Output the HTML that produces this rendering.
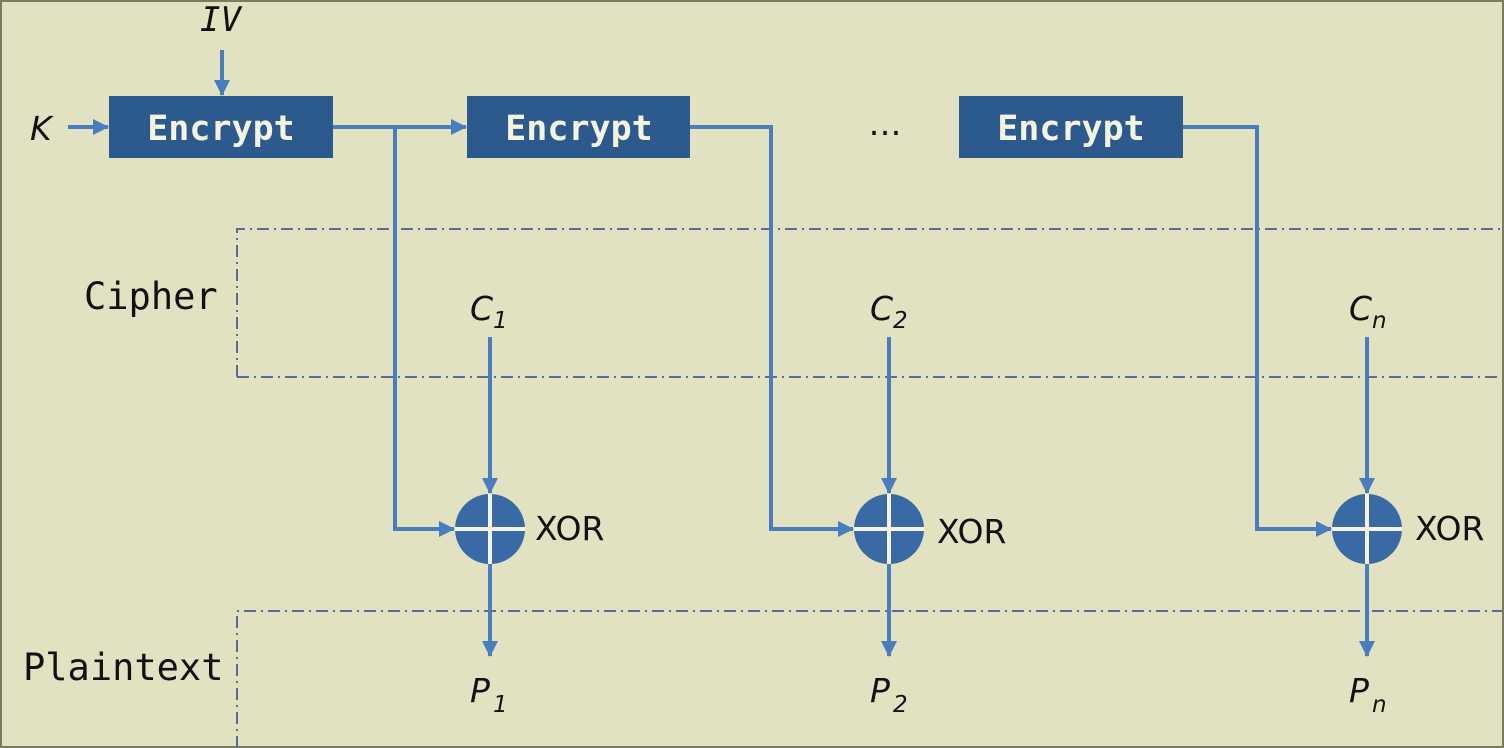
<!DOCTYPE html>
<html><head><style>
html,body{margin:0;padding:0;background:#e2e2c2;}
svg{display:block}
.enc{font-family:"DejaVu Sans Mono","Liberation Mono",monospace;font-size:35px;font-weight:bold;fill:#f4f4e0;}
.lab{font-family:"DejaVu Sans Mono","Liberation Mono",monospace;font-size:37px;fill:#111;}
.it{font-family:"DejaVu Sans","Liberation Sans",sans-serif;font-style:italic;font-size:33px;fill:#111;}
.mit{font-family:"DejaVu Sans Mono","Liberation Mono",monospace;font-style:italic;font-size:34px;fill:#111;}
.sub{font-family:"DejaVu Sans","Liberation Sans",sans-serif;font-style:italic;font-size:23px;fill:#111;}
.xor{font-family:"DejaVu Sans","Liberation Sans",sans-serif;font-size:33px;fill:#111;}
</style></head><body>
<svg width="1504" height="748" viewBox="0 0 1504 748" xmlns="http://www.w3.org/2000/svg">
<defs>
<marker id="b" markerWidth="16" markerHeight="16" refX="15" refY="8" orient="auto" markerUnits="userSpaceOnUse"><path d="M0,0 L16,8 L0,16 z" fill="#4a7dbd"/></marker>
</defs>
<rect x="1" y="1" width="1502" height="746" fill="#e2e2c2" stroke="#7b7b62" stroke-width="2"/>
<g stroke="#5a6a9a" stroke-width="2" fill="none" stroke-dasharray="12,5,2,5">
<path d="M237,377 V229 H1502"/>
<path d="M237,377 H1502"/>
<path d="M237,748 V611 H1502"/>
</g>
<g stroke="#4a7dbd" stroke-width="4" fill="none">
<line x1="222" y1="50" x2="222" y2="95" marker-end="url(#b)"/>
<line x1="68" y1="127" x2="108" y2="127" marker-end="url(#b)"/>
<line x1="333" y1="127" x2="466" y2="127" marker-end="url(#b)"/>
<path d="M395,127 V529 H454" marker-end="url(#b)"/>
<path d="M690,127 H771 V529 H853" marker-end="url(#b)"/>
<path d="M1183,127 H1257 V529 H1331" marker-end="url(#b)"/>
<line x1="490" y1="337" x2="490" y2="493" marker-end="url(#b)"/>
<line x1="889" y1="337" x2="889" y2="493" marker-end="url(#b)"/>
<line x1="1367" y1="337" x2="1367" y2="493" marker-end="url(#b)"/>
<line x1="490" y1="563" x2="490" y2="656" marker-end="url(#b)"/>
<line x1="889" y1="563" x2="889" y2="656" marker-end="url(#b)"/>
<line x1="1367" y1="563" x2="1367" y2="656" marker-end="url(#b)"/>
</g>
<g fill="#2c5a8c">
<rect x="109" y="96" width="224" height="62"/>
<rect x="467" y="96" width="223" height="62"/>
<rect x="959" y="96" width="224" height="62"/>
</g>
<text class="enc" x="221" y="140" text-anchor="middle">Encrypt</text>
<text class="enc" x="579" y="140" text-anchor="middle">Encrypt</text>
<text class="enc" x="1071" y="140" text-anchor="middle">Encrypt</text>
<text class="xor" x="885" y="135" text-anchor="middle">…</text>
<g fill="#3a6aa6" stroke="#f4f4e0" stroke-width="4">
<circle cx="490" cy="529" r="35" stroke="none"/>
<circle cx="889" cy="529" r="35" stroke="none"/>
<circle cx="1367" cy="529" r="35" stroke="none"/>
<path d="M490,494 V564 M455,529 H525 M889,494 V564 M854,529 H924 M1367,494 V564 M1332,529 H1402"/>
</g>
<text class="xor" x="535" y="540">XOR</text>
<text class="xor" x="937" y="543">XOR</text>
<text class="xor" x="1415" y="540">XOR</text>
<text class="mit" x="200" y="31">IV</text>
<text class="it" x="30" y="140">K</text>
<text class="lab" x="84" y="309">Cipher</text>
<text class="lab" x="23" y="680">Plaintext</text>
<text class="it" x="470" y="320">C</text><text class="sub" x="493" y="328">1</text>
<text class="it" x="870" y="320">C</text><text class="sub" x="893" y="328">2</text>
<text class="it" x="1349" y="320">C</text><text class="sub" x="1372" y="328">n</text>
<text class="it" x="470" y="702">P</text><text class="sub" x="493" y="712">1</text>
<text class="it" x="870" y="702">P</text><text class="sub" x="893" y="712">2</text>
<text class="it" x="1349" y="702">P</text><text class="sub" x="1372" y="712">n</text>
</svg>
</body></html>
